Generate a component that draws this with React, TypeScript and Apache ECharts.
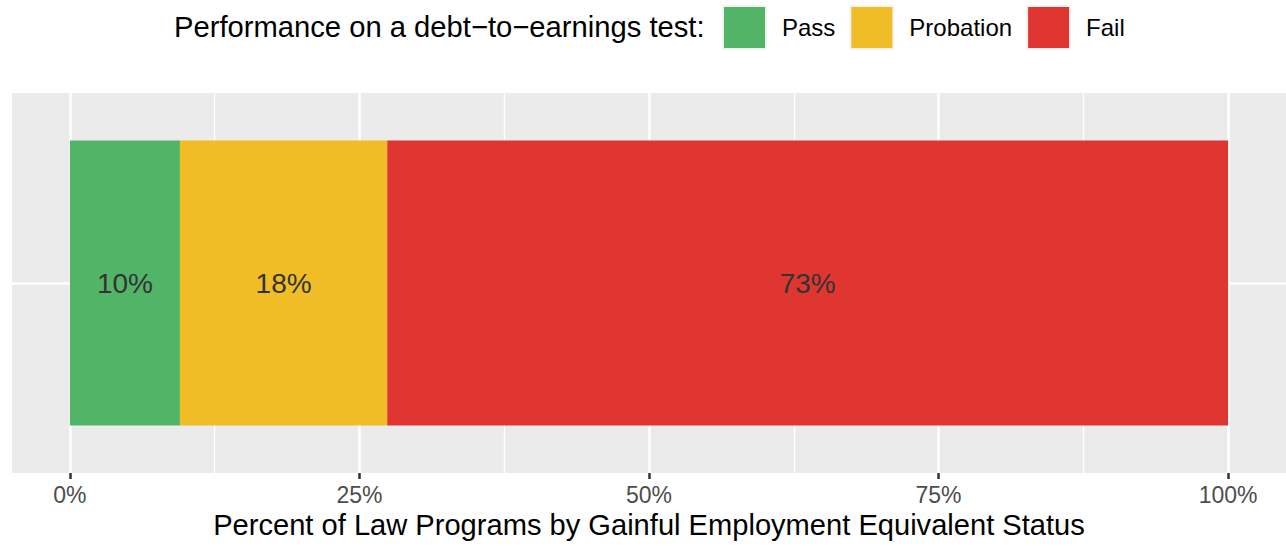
import React, { useEffect, useRef } from "react";
import * as echarts from "echarts";

const categories = ["Law Programs"];
const seriesNames = ["Pass", "Probation", "Fail"];
const passValues = [9.5];
const probationValues = [17.9];
const failValues = [72.6];
const colors = ["#52B467", "#F0BD27", "#E03632"];
const majorTicks = [0, 25, 50, 75, 100];
const minorTicks = [12.5, 37.5, 62.5, 87.5];
const legendTitle = "Performance on a debt\u2212to\u2212earnings test:";
const axisTitle = "Percent of Law Programs by Gainful Employment Equivalent Status";

const FONT = "'Liberation Sans', Arial, Helvetica, sans-serif";

export default function App() {
  const ref = useRef<HTMLDivElement>(null);
  useEffect(() => {
    document.body.style.margin = "0";
    const chart = echarts.init(ref.current!, null, { renderer: "svg" });
    const values = [passValues, probationValues, failValues];
    chart.setOption({
      animation: false,
      backgroundColor: "#ffffff",
      textStyle: { fontFamily: FONT },
      title: {
        text: legendTitle,
        left: 174,
        top: 12,
        padding: 0,
        textStyle: { fontSize: 29.2, fontWeight: "normal", color: "#000000", fontFamily: FONT },
      },
      legend: {
        data: seriesNames,
        left: 722,
        top: 5,
        padding: 0,
        icon: "rect",
        itemWidth: 43,
        itemHeight: 43,
        itemGap: 14,
        selectedMode: false,
        itemStyle: { borderColor: "#f2f2f2", borderWidth: 2 },
        textStyle: { fontSize: 24, color: "#000000", fontFamily: FONT, padding: [0, 0, 0, 11] },
      },
      grid: {
        left: 12,
        right: 0,
        top: 93,
        bottom: 73,
        show: true,
        backgroundColor: "#ebebeb",
        borderWidth: 0,
        containLabel: false,
      },
      xAxis: [
        {
          type: "value",
          min: -5,
          max: 105,
          position: "bottom",
          axisLine: { show: false },
          axisTick: {
            show: true,
            length: 6,
            customValues: majorTicks,
            lineStyle: { color: "#333333", width: 2.5 },
          },
          axisLabel: {
            customValues: majorTicks,
            formatter: (v: number) => `${v}%`,
            fontSize: 23,
            color: "#4d4d4d",
            margin: 10,
            fontFamily: FONT,
          },
          splitLine: { show: true, lineStyle: { color: "#ffffff", width: 2.5 } },
          name: axisTitle,
          nameLocation: "middle",
          nameGap: 34,
          nameTextStyle: { fontSize: 29.1, color: "#000000", fontFamily: FONT },
        },
        {
          type: "value",
          min: -5,
          max: 105,
          position: "top",
          axisLine: { show: false },
          axisTick: { show: false, customValues: minorTicks },
          axisLabel: { show: false, customValues: minorTicks },
          splitLine: { show: true, lineStyle: { color: "#ffffff", width: 1.3 } },
        },
      ],
      yAxis: [
        {
          type: "category",
          data: categories,
          axisLine: { show: false },
          axisTick: { show: false },
          axisLabel: { show: false },
          splitLine: { show: false },
        },
        {
          type: "value",
          min: 0,
          max: 2,
          interval: 1,
          position: "right",
          axisLine: { show: false },
          axisTick: { show: false },
          axisLabel: { show: false },
          splitLine: {
            show: true,
            showMinLine: false,
            showMaxLine: false,
            lineStyle: { color: "#ffffff", width: 2.5 },
          },
        },
      ],
      series: seriesNames.map((name, i) => ({
        name,
        type: "bar",
        stack: "total",
        xAxisIndex: 0,
        yAxisIndex: 0,
        barWidth: "75%",
        data: values[i],
        itemStyle: { color: colors[i] },
        label: {
          show: true,
          position: "inside",
          formatter: (p: any) => `${Math.round(p.value)}%`,
          fontSize: 28,
          color: "#333333",
          fontFamily: FONT,
        },
      })),
    });
    return () => chart.dispose();
  }, []);
  return <div ref={ref} style={{ width: 1286, height: 546 }} />;
}
